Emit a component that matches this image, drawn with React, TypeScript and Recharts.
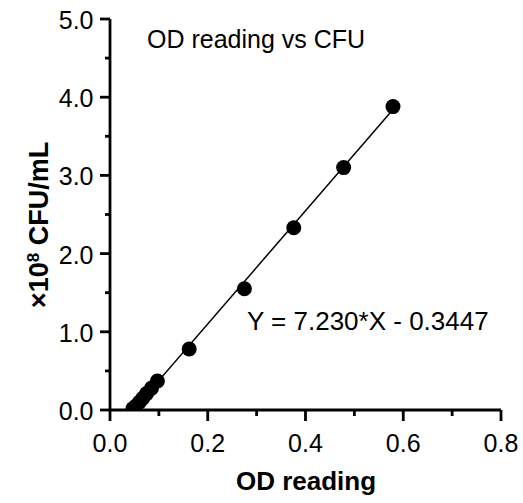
import React from 'react';
import { ScatterChart, Scatter, XAxis, YAxis, Customized } from 'recharts';

const odReading = [0.047, 0.053, 0.06, 0.067, 0.075, 0.085, 0.097, 0.162, 0.275, 0.376, 0.478, 0.579];
const cfuE8 = [0.02, 0.05, 0.1, 0.15, 0.21, 0.28, 0.37, 0.78, 1.55, 2.33, 3.1, 3.88];

const xTicks = [0, 0.1, 0.2, 0.3, 0.4, 0.5, 0.6, 0.7, 0.8];
const xMajor = [0, 0.2, 0.4, 0.6, 0.8];
const yTicks = [0, 0.5, 1, 1.5, 2, 2.5, 3, 3.5, 4, 4.5, 5];
const yMajor = [0, 1, 2, 3, 4, 5];

const fitSlope = 7.23;
const fitIntercept = -0.3447;

const chartTitle = 'OD reading vs CFU';
const fitLabel = 'Y = 7.230*X - 0.3447';
const xTitle = 'OD reading';

const FONT = '"Liberation Sans", Arial, Helvetica, sans-serif';

const points = odReading.map((x, i) => ({ x, y: cfuE8[i] }));
const xMin = Math.min(...odReading);
const xMax = Math.max(...odReading);
const fitLine = [
  { x: xMin, y: fitSlope * xMin + fitIntercept },
  { x: xMax, y: fitSlope * xMax + fitIntercept },
];

const isIn = (arr: number[], v: number) => arr.some((m) => Math.abs(m - v) < 1e-9);

const XTick = (props: any) => {
  const { x, y, payload } = props;
  const major = isIn(xMajor, payload.value);
  return (
    <g>
      <rect x={x - 1.4} y={y} width={2.8} height={major ? 11 : 6} fill="#000" stroke="none" />
      {major && (
        <text x={x} y={y + 42} textAnchor="middle" fontSize={25} fontFamily={FONT} fill="#000" stroke="none">
          {payload.value.toFixed(1)}
        </text>
      )}
    </g>
  );
};

const YTick = (props: any) => {
  const { x, y, payload } = props;
  const major = isIn(yMajor, payload.value);
  const len = major ? 10 : 5;
  return (
    <g>
      <rect x={x - len} y={y - 1.4} width={len} height={2.8} fill="#000" stroke="none" />
      {major && (
        <text x={x - 16.5} y={y + 10} textAnchor="end" fontSize={25} fontFamily={FONT} fill="#000" stroke="none">
          {payload.value.toFixed(1)}
        </text>
      )}
    </g>
  );
};

const Dot = (props: any) => <circle cx={props.cx} cy={props.cy} r={7.5} fill="#000" />;
const NoDot = () => <g />;

const Overlay = () => (
  <g fontFamily={FONT} fill="#000">
    <text x={147} y={48} fontSize={25}>
      {chartTitle}
    </text>
    <text x={247} y={330} fontSize={26}>
      {fitLabel}
    </text>
    <text x={306} y={490} fontSize={26} fontWeight="bold" textAnchor="middle">
      {xTitle}
    </text>
    <text
      transform="translate(48,225) rotate(-90)"
      fontSize={27}
      fontWeight="bold"
      textAnchor="middle"
    >
      <tspan>×10</tspan>
      <tspan fontSize={17} dy={-9}>8</tspan>
      <tspan dy={9}> CFU/mL</tspan>
    </text>
  </g>
);

export default function App() {
  return (
    <div style={{ position: 'absolute', left: 0, top: 0, background: '#fff' }}>
      <ScatterChart width={523} height={503} margin={{ top: 19, right: 22, bottom: 0, left: 0 }}>
        <XAxis
          type="number"
          dataKey="x"
          domain={[0, 0.8]}
          ticks={xTicks}
          interval={0}
          allowDataOverflow
          height={93}
          tickSize={0}
          tickMargin={0}
          tickLine={false}
          axisLine={{ stroke: '#000', strokeWidth: 2.8 }}
          tick={<XTick />}
        />
        <YAxis
          type="number"
          dataKey="y"
          domain={[0, 5]}
          ticks={yTicks}
          interval={0}
          allowDataOverflow
          width={110}
          tickSize={0}
          tickMargin={0}
          tickLine={false}
          axisLine={{ stroke: '#000', strokeWidth: 2.8 }}
          tick={<YTick />}
        />
        <Scatter
          data={fitLine}
          line={{ stroke: '#000', strokeWidth: 1.5 }}
          shape={<NoDot />}
          isAnimationActive={false}
        />
        <Scatter data={points} shape={<Dot />} isAnimationActive={false} />
        <Customized component={Overlay} />
      </ScatterChart>
    </div>
  );
}
